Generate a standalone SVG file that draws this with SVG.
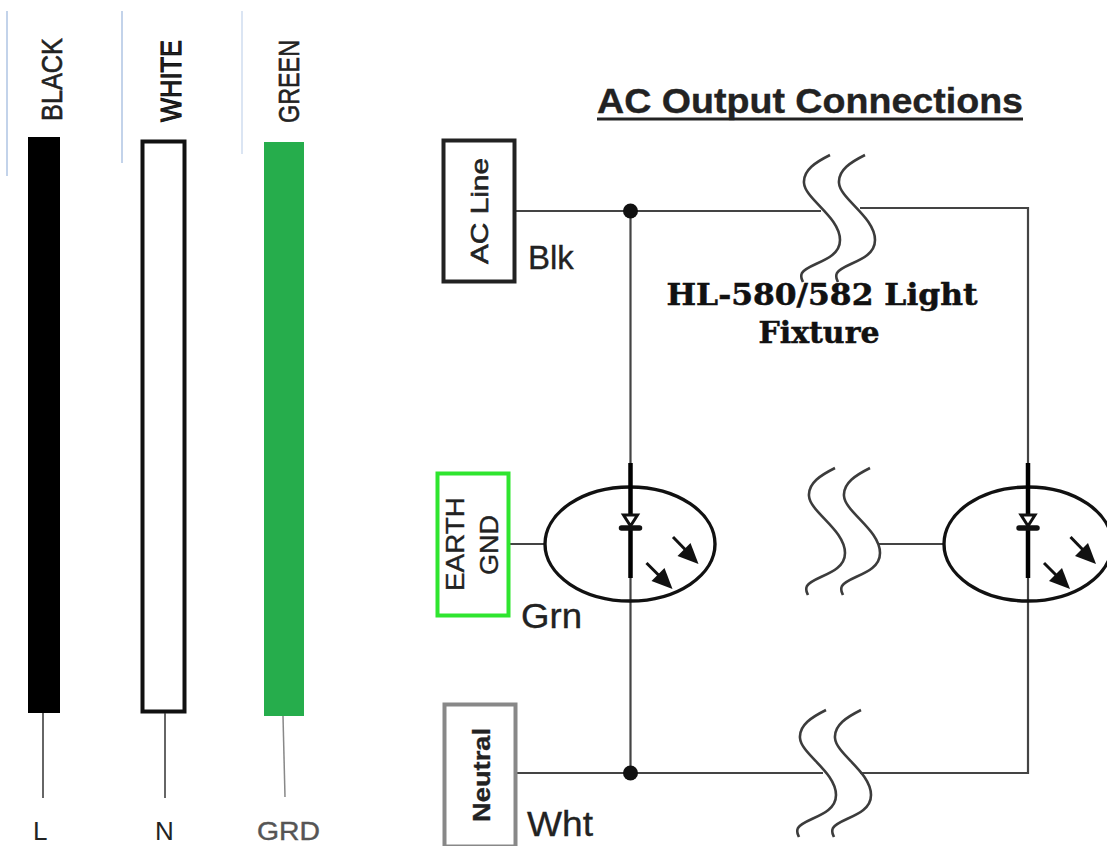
<svg xmlns="http://www.w3.org/2000/svg" width="1107" height="846" viewBox="0 0 1107 846">
<style>
text{font-family:"Liberation Sans",Arial,sans-serif;fill:#222}
.h{stroke:#222;stroke-width:.6}
.m{stroke:#222;stroke-width:.35}
.w{fill:none;stroke:#444;stroke-width:2.2}
.sq{fill:none;stroke:#3c3c3c;stroke-width:2.6}
.e{fill:none;stroke:#111;stroke-width:3.4}
.bar{stroke:#000;stroke-width:4.500;fill:none}
.ar{stroke:#111;stroke-width:3;fill:none}
.head{fill:#111}
.f{font-family:"DejaVu Serif",serif;font-weight:bold;fill:#111;stroke:#111;stroke-width:.5}
</style>
<defs>
<path id="squig" d="M0 0C-14 7-27 15-26 28C-25 44 10 62 10 85C10 106-22 108-28 118C-30 122-28 125-27 127"/>
<g id="led">
<path class="bar" d="M0-54V-3M0 11V61"/>
<path d="M-7-2H7L0 9Z" fill="#fff" stroke="#111" stroke-width="3"/>
<path d="M-9 11H9" stroke="#111" stroke-width="5.500" stroke-linecap="round"/>
<path class="ar" d="M16 46L33 63"/><path class="head" d="M42 72L21 64L34 51Z"/>
<path class="ar" d="M42.500 20L59 37"/><path class="head" d="M68 47L47 39L60 26Z"/>
</g>
</defs>

<g id="guides" fill="none" stroke-width="2">
<path d="M7 11V176" stroke="#c3d3ea"/>
<path d="M122 11V163" stroke="#c3d3ea"/>
<path d="M242 11V154" stroke="#dbe5f3"/>
</g>

<g id="wire-black">
<text class="h" transform="translate(62 121) rotate(-90)" font-size="30" textLength="83" lengthAdjust="spacingAndGlyphs">BLACK</text>
<rect x="28" y="137" width="32" height="576" fill="#000"/>
<path d="M43 713V798" stroke="#333" stroke-width="1.500"/>
<text x="33" y="840" font-size="26">L</text>
</g>
<g id="wire-white">
<text transform="translate(181 122) rotate(-90)" font-size="30" textLength="82" lengthAdjust="spacingAndGlyphs" style="stroke:#111;stroke-width:1.100">WHITE</text>
<rect x="142.500" y="141.500" width="42" height="570" fill="#fff" stroke="#111" stroke-width="4"/>
<path d="M165 713V798" stroke="#333" stroke-width="1.500"/>
<text x="155" y="840" font-size="26">N</text>
</g>
<g id="wire-green">
<text class="h" transform="translate(299 123) rotate(-90)" font-size="30" textLength="83" lengthAdjust="spacingAndGlyphs">GREEN</text>
<rect x="264" y="142" width="40" height="574" fill="#26ad4c"/>
<path d="M283 716L285 797" stroke="#888" stroke-width="1.500"/>
<text x="257" y="840" font-size="25" textLength="63" lengthAdjust="spacingAndGlyphs" style="fill:#555;stroke:#555;stroke-width:.4">GRD</text>
</g>

<g id="title">
<text class="m" x="597" y="113" font-size="35" font-weight="bold" textLength="426" lengthAdjust="spacingAndGlyphs">AC Output Connections</text>
<path d="M597 119H1023" stroke="#222" stroke-width="3"/>
</g>

<g id="connectors">
<path class="w" d="M515 211H821M860 208H1028V773H860M823 773H515"/>
<path class="w" d="M630.500 211V773"/>
<path class="w" d="M509 544H545"/>
<path class="w" d="M878 544H944"/>
<circle cx="630.500" cy="211" r="7.500" fill="#111"/>
<circle cx="630.500" cy="773" r="7.500" fill="#111"/>
</g>

<g id="break-top">
<use href="#squig" class="sq" transform="translate(830 155)"/>
<use href="#squig" class="sq" transform="translate(865 155)"/>
</g>
<g id="break-middle">
<use href="#squig" class="sq" transform="translate(835 468)"/>
<use href="#squig" class="sq" transform="translate(870 468)"/>
</g>
<g id="break-bottom">
<use href="#squig" class="sq" transform="translate(826 710)"/>
<use href="#squig" class="sq" transform="translate(861 710)"/>
</g>

<g id="ac-line">
<rect x="443.500" y="140.500" width="71" height="141" fill="#fff" stroke="#222" stroke-width="4"/>
<text class="h" transform="translate(488 264) rotate(-90)" font-size="24" textLength="106" lengthAdjust="spacingAndGlyphs">AC Line</text>
<text class="m" x="528" y="269" font-size="33">Blk</text>
</g>
<g id="earth-gnd">
<rect x="437.500" y="473.500" width="71" height="142" fill="#fff" stroke="#2fe52f" stroke-width="4"/>
<text class="m" transform="translate(464 591) rotate(-90)" font-size="26" textLength="94" lengthAdjust="spacingAndGlyphs">EARTH</text>
<text class="m" transform="translate(498 575) rotate(-90)" font-size="26" textLength="60" lengthAdjust="spacingAndGlyphs">GND</text>
<text class="m" x="521" y="628" font-size="35" textLength="61" lengthAdjust="spacingAndGlyphs">Grn</text>
</g>
<g id="neutral">
<rect x="444.500" y="704.500" width="71" height="142" fill="#fff" stroke="#888" stroke-width="4"/>
<text class="m" transform="translate(490 822) rotate(-90)" font-size="24" font-weight="bold" textLength="94" lengthAdjust="spacingAndGlyphs">Neutral</text>
<text class="m" x="527" y="836" font-size="35" textLength="66" lengthAdjust="spacingAndGlyphs">Wht</text>
</g>

<g id="led-left">
<ellipse class="e" cx="630" cy="544" rx="85" ry="57"/>
<use href="#led" transform="translate(630.500 517)"/>
</g>
<g id="led-right">
<ellipse class="e" cx="1028" cy="544" rx="84" ry="57"/>
<use href="#led" transform="translate(1028 517)"/>
</g>

<g id="fixture-label">
<text class="f" x="822" y="305" font-size="29" text-anchor="middle" textLength="311" lengthAdjust="spacingAndGlyphs">HL-580/582 Light</text>
<text class="f" x="819" y="343" font-size="29" text-anchor="middle" textLength="121" lengthAdjust="spacingAndGlyphs">Fixture</text>
</g>
</svg>
